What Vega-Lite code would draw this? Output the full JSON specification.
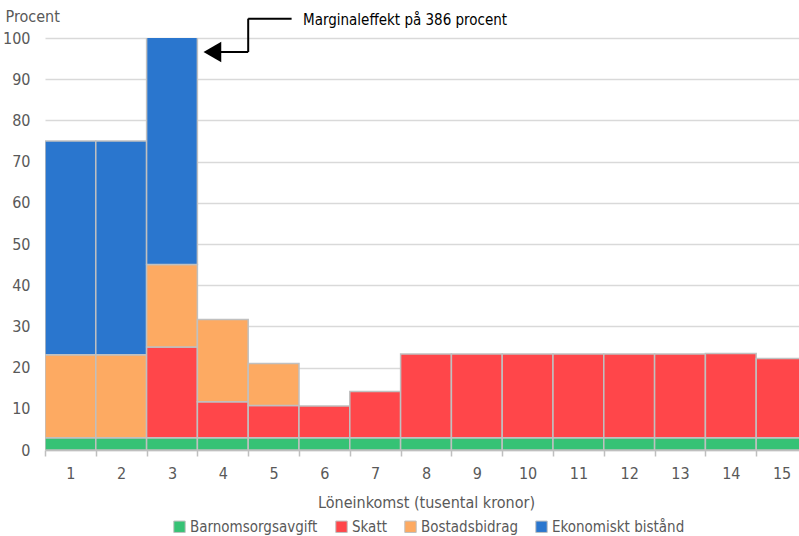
{
  "$schema": "https://vega.github.io/schema/vega-lite/v6.json",
  "width": 754,
  "height": 412,
  "autosize": {"type": "none"},
  "padding": {"left": 45, "top": 38, "right": 0, "bottom": 86},
  "config": {
    "font": "DejaVu Sans Condensed",
    "view": {"stroke": null},
    "axis": {"labelFont": "DejaVu Sans Condensed", "titleFont": "DejaVu Sans Condensed", "labelColor": "#595959", "titleColor": "#595959", "labelFontSize": 16, "titleFontSize": 16, "titleFontWeight": "normal"},
    "legend": {"labelFont": "DejaVu Sans Condensed", "labelFontSize": 15, "labelColor": "#595959"}
  },
  "layer": [
    {
      "data": {
        "values": [
          {"inkomst": 1, "typ": "Barnomsorgsavgift", "k": 1, "value": 3},
          {"inkomst": 1, "typ": "Bostadsbidrag", "k": 3, "value": 20.1},
          {"inkomst": 1, "typ": "Ekonomiskt bistånd", "k": 4, "value": 51.9},
          {"inkomst": 2, "typ": "Barnomsorgsavgift", "k": 1, "value": 3},
          {"inkomst": 2, "typ": "Bostadsbidrag", "k": 3, "value": 20.1},
          {"inkomst": 2, "typ": "Ekonomiskt bistånd", "k": 4, "value": 51.9},
          {"inkomst": 3, "typ": "Barnomsorgsavgift", "k": 1, "value": 3},
          {"inkomst": 3, "typ": "Skatt", "k": 2, "value": 22},
          {"inkomst": 3, "typ": "Bostadsbidrag", "k": 3, "value": 20},
          {"inkomst": 3, "typ": "Ekonomiskt bistånd", "k": 4, "value": 341},
          {"inkomst": 4, "typ": "Barnomsorgsavgift", "k": 1, "value": 3},
          {"inkomst": 4, "typ": "Skatt", "k": 2, "value": 8.7},
          {"inkomst": 4, "typ": "Bostadsbidrag", "k": 3, "value": 20},
          {"inkomst": 5, "typ": "Barnomsorgsavgift", "k": 1, "value": 3},
          {"inkomst": 5, "typ": "Skatt", "k": 2, "value": 7.8},
          {"inkomst": 5, "typ": "Bostadsbidrag", "k": 3, "value": 10.2},
          {"inkomst": 6, "typ": "Barnomsorgsavgift", "k": 1, "value": 3},
          {"inkomst": 6, "typ": "Skatt", "k": 2, "value": 7.7},
          {"inkomst": 7, "typ": "Barnomsorgsavgift", "k": 1, "value": 3},
          {"inkomst": 7, "typ": "Skatt", "k": 2, "value": 11.2},
          {"inkomst": 8, "typ": "Barnomsorgsavgift", "k": 1, "value": 3},
          {"inkomst": 8, "typ": "Skatt", "k": 2, "value": 20.3},
          {"inkomst": 9, "typ": "Barnomsorgsavgift", "k": 1, "value": 3},
          {"inkomst": 9, "typ": "Skatt", "k": 2, "value": 20.3},
          {"inkomst": 10, "typ": "Barnomsorgsavgift", "k": 1, "value": 3},
          {"inkomst": 10, "typ": "Skatt", "k": 2, "value": 20.3},
          {"inkomst": 11, "typ": "Barnomsorgsavgift", "k": 1, "value": 3},
          {"inkomst": 11, "typ": "Skatt", "k": 2, "value": 20.3},
          {"inkomst": 12, "typ": "Barnomsorgsavgift", "k": 1, "value": 3},
          {"inkomst": 12, "typ": "Skatt", "k": 2, "value": 20.3},
          {"inkomst": 13, "typ": "Barnomsorgsavgift", "k": 1, "value": 3},
          {"inkomst": 13, "typ": "Skatt", "k": 2, "value": 20.3},
          {"inkomst": 14, "typ": "Barnomsorgsavgift", "k": 1, "value": 3},
          {"inkomst": 14, "typ": "Skatt", "k": 2, "value": 20.45},
          {"inkomst": 15, "typ": "Barnomsorgsavgift", "k": 1, "value": 3},
          {"inkomst": 15, "typ": "Skatt", "k": 2, "value": 19.2}
        ]
      },
      "mark": {"type": "bar", "clip": true, "stroke": "#c0c0c0", "strokeWidth": 1.5},
      "encoding": {
        "x": {
          "field": "inkomst", "type": "ordinal",
          "scale": {"range": [0, 762], "paddingInner": 0, "paddingOuter": 0},
          "axis": {"title": "Löneinkomst (tusental kronor)", "labelAngle": 0, "tickBand": "extent", "domainColor": "#bfbfbf", "domainWidth": 1.5, "tickColor": "#bfbfbf", "tickWidth": 1.5, "tickSize": 6, "labelPadding": 9, "titlePadding": 13, "titleX": 381, "grid": false}
        },
        "y": {
          "field": "value", "type": "quantitative", "stack": "zero",
          "scale": {"domain": [0, 100], "nice": false},
          "axis": {"title": "Procent", "titleAngle": 0, "titleAlign": "left", "titleBaseline": "alphabetic", "titleX": -40, "titleY": -17, "values": [0, 10, 20, 30, 40, 50, 60, 70, 80, 90, 100], "ticks": false, "domain": false, "labelPadding": 15, "gridColor": "#d9d9d9", "gridWidth": 1.5}
        },
        "color": {
          "field": "typ", "type": "nominal",
          "scale": {"domain": ["Barnomsorgsavgift", "Skatt", "Bostadsbidrag", "Ekonomiskt bistånd"], "range": ["#36c275", "#ff464a", "#fdaa62", "#2a76ce"]},
          "legend": {"title": null, "orient": "none", "direction": "horizontal", "legendX": 127, "legendY": 481, "symbolType": "square", "symbolSize": 130, "symbolStrokeColor": "#bfbfbf", "symbolStrokeWidth": 1, "labelOffset": 3, "columnPadding": 15}
        },
        "order": {"field": "k", "type": "quantitative"}
      }
    },
    {
      "data": {"values": [{"inkomst": 5, "value": 104.7}]},
      "mark": {"type": "rule", "color": "black", "strokeWidth": 2, "x2Offset": 18},
      "encoding": {
        "x": {"field": "inkomst", "type": "ordinal", "bandPosition": 0},
        "x2": {"field": "inkomst"},
        "y": {"field": "value", "type": "quantitative", "title": "Procent"}
      }
    },
    {
      "data": {"values": [{"inkomst": 5, "value": 104.7, "value2": 96.6}]},
      "mark": {"type": "rule", "color": "black", "strokeWidth": 2},
      "encoding": {
        "x": {"field": "inkomst", "type": "ordinal", "bandPosition": 0},
        "y": {"field": "value", "type": "quantitative", "title": "Procent"},
        "y2": {"field": "value2"}
      }
    },
    {
      "data": {"values": [{"inkomst": 4, "value": 96.6}]},
      "mark": {"type": "rule", "color": "black", "strokeWidth": 2, "xOffset": 16, "x2Offset": 25.4},
      "encoding": {
        "x": {"field": "inkomst", "type": "ordinal", "bandPosition": 0},
        "x2": {"field": "inkomst"},
        "y": {"field": "value", "type": "quantitative", "title": "Procent"}
      }
    },
    {
      "data": {"values": [{"inkomst": 4, "value": 96.6}]},
      "mark": {"type": "point", "shape": "triangle-left", "filled": true, "color": "black", "opacity": 1, "size": 420, "xOffset": 15},
      "encoding": {
        "x": {"field": "inkomst", "type": "ordinal", "bandPosition": 0},
        "y": {"field": "value", "type": "quantitative", "title": "Procent"}
      }
    },
    {
      "data": {"values": [{"inkomst": 6, "value": 104.3, "text": "Marginaleffekt på 386 procent"}]},
      "mark": {"type": "text", "align": "left", "baseline": "middle", "dx": 4, "fontSize": 15, "color": "black", "font": "DejaVu Sans Condensed"},
      "encoding": {
        "x": {"field": "inkomst", "type": "ordinal", "bandPosition": 0},
        "y": {"field": "value", "type": "quantitative", "title": "Procent"},
        "text": {"field": "text"}
      }
    }
  ]
}
